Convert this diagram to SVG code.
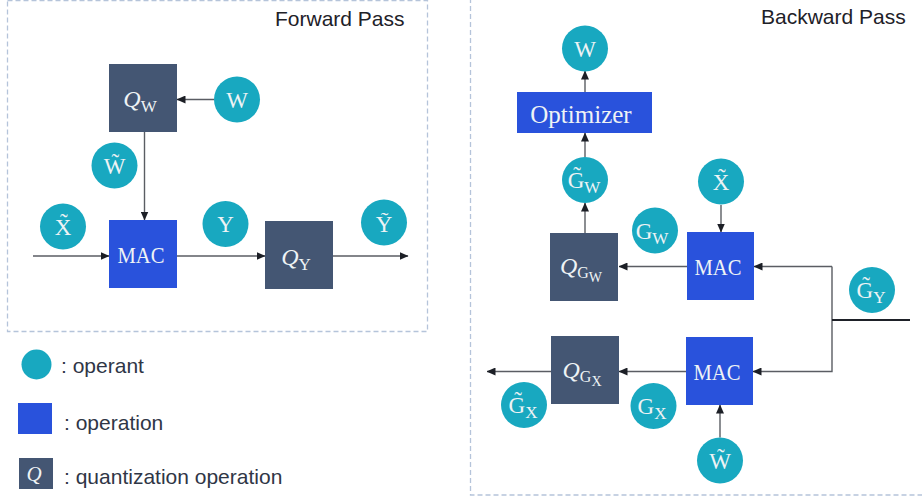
<svg xmlns="http://www.w3.org/2000/svg" width="922" height="496" viewBox="0 0 922 496">
<defs>
<marker id="arr" markerWidth="9" markerHeight="8" refX="8.5" refY="4" orient="auto" markerUnits="userSpaceOnUse">
<path d="M0,0 L9,4 L0,8 Z" fill="#1c1f26"/>
</marker>
<style>
.frame{fill:none;stroke:#b5c4da;stroke-width:1.3;stroke-dasharray:5 3}
.op{fill:#18a8c0}
.mac{fill:#2952dc}
.q{fill:#445673}
.lbl{font-family:"Liberation Serif","DejaVu Serif",serif;fill:#eef3f5;text-anchor:middle}
.ci{font-size:23px}
.title{font-family:"Liberation Sans",Arial,sans-serif;font-size:21px;fill:#1e2128}
.leg{font-family:"Liberation Sans",Arial,sans-serif;font-size:21px;fill:#2f3646}
.c{fill:none;stroke:#5a5d63;stroke-width:1.4}
.cb{fill:none;stroke:#1e2128;stroke-width:2}
</style>
</defs>
<rect width="922" height="496" fill="#ffffff"/>
<rect class="frame" x="7.5" y="0.5" width="420" height="331"/>
<rect class="frame" x="470.5" y="-5" width="460" height="500"/>
<text class="title" x="275" y="26">Forward Pass</text>
<text class="title" x="761" y="24">Backward Pass</text>

<g id="connectors">
<line class="c" x1="214" y1="99.5" x2="177" y2="99.5" marker-end="url(#arr)"/>
<line class="c" x1="144.5" y1="132" x2="144.5" y2="220" marker-end="url(#arr)"/>
<line class="c" x1="33" y1="256" x2="109" y2="256" marker-end="url(#arr)"/>
<line class="c" x1="177" y1="256" x2="265" y2="256" marker-end="url(#arr)"/>
<line class="c" x1="333" y1="256" x2="408" y2="256" marker-end="url(#arr)"/>
<line class="c" x1="585" y1="92" x2="585" y2="71" marker-end="url(#arr)"/>
<line class="c" x1="585" y1="157" x2="585" y2="133" marker-end="url(#arr)"/>
<line class="c" x1="585" y1="233" x2="585" y2="203" marker-end="url(#arr)"/>
<line class="c" x1="721" y1="205" x2="721" y2="232" marker-end="url(#arr)"/>
<line class="c" x1="687" y1="266.5" x2="619" y2="266.5" marker-end="url(#arr)"/>
<path class="c" d="M832,266.5 H754" marker-end="url(#arr)"/>
<path class="c" d="M832,266.5 V371.5 H753" marker-end="url(#arr)"/>
<line class="cb" x1="832" y1="320" x2="910" y2="320"/>
<line class="c" x1="686" y1="371.5" x2="619" y2="371.5" marker-end="url(#arr)"/>
<line class="c" x1="551" y1="371.5" x2="487" y2="371.5" marker-end="url(#arr)"/>
<line class="c" x1="720" y1="437.5" x2="720" y2="405" marker-end="url(#arr)"/>
</g>

<g id="fw-qw"><rect class="q" x="109" y="64" width="68" height="68"/>
<text class="lbl" x="140" y="107" font-size="24"><tspan font-style="italic">Q</tspan><tspan font-size="17" dy="5">W</tspan></text></g>
<g id="fw-w"><circle class="op" cx="237" cy="99.5" r="23"/><text class="lbl ci" x="237" y="107.5">W</text></g>
<g id="fw-wt"><circle class="op" cx="114.5" cy="165.5" r="23"/><text class="lbl ci" x="114.5" y="174">W&#x303;</text></g>
<g id="fw-xt"><circle class="op" cx="63" cy="226.5" r="23"/><text class="lbl ci" x="63" y="235">X&#x303;</text></g>
<g id="fw-mac"><rect class="mac" x="109" y="220" width="68" height="68"/><text class="lbl" x="141" y="263" font-size="24" textLength="47" lengthAdjust="spacingAndGlyphs">MAC</text></g>
<g id="fw-y"><circle class="op" cx="225.5" cy="224" r="23"/><text class="lbl ci" x="225.5" y="232">Y</text></g>
<g id="fw-qy"><rect class="q" x="265" y="221" width="68" height="68"/>
<text class="lbl" x="296" y="265" font-size="24"><tspan font-style="italic">Q</tspan><tspan font-size="17" dy="5">Y</tspan></text></g>
<g id="fw-yt"><circle class="op" cx="384" cy="222.5" r="23"/><text class="lbl ci" x="384" y="231.5">Y&#x303;</text></g>

<g id="legend-operant"><circle class="op" cx="36.5" cy="364.5" r="15"/><text class="leg" x="61" y="372.5">: operant</text></g>
<g id="legend-operation"><rect class="mac" x="18" y="403" width="34" height="31"/><text class="leg" x="64" y="430">: operation</text></g>
<g id="legend-quant"><rect class="q" x="19" y="458" width="34" height="31"/><text class="lbl" x="34" y="481" font-size="21" font-style="italic">Q</text><text class="leg" x="64" y="484">: quantization operation</text></g>

<g id="bw-w"><circle class="op" cx="585" cy="48.5" r="23"/><text class="lbl ci" x="585" y="56.5">W</text></g>
<g id="bw-opt"><rect class="mac" x="517" y="92" width="135" height="41"/><text class="lbl" x="581" y="123" font-size="25">Optimizer</text></g>
<g id="bw-gwt"><circle class="op" cx="585" cy="180" r="23"/><text class="lbl ci" x="584" y="188">G&#x303;<tspan font-size="17" dy="5">W</tspan></text></g>
<g id="bw-qgw"><rect class="q" x="550" y="233" width="68" height="68"/>
<text class="lbl" x="581" y="274" font-size="24"><tspan font-style="italic">Q</tspan><tspan font-size="16" dy="4">G</tspan><tspan font-size="14" dy="4">W</tspan></text></g>
<g id="bw-gw"><circle class="op" cx="655" cy="230.5" r="23"/><text class="lbl ci" x="652" y="239">G<tspan font-size="17" dy="5">W</tspan></text></g>
<g id="bw-xt"><circle class="op" cx="721" cy="181.5" r="23"/><text class="lbl ci" x="721" y="190">X&#x303;</text></g>
<g id="bw-mac1"><rect class="mac" x="687" y="232" width="67" height="68"/><text class="lbl" x="718" y="275" font-size="24" textLength="47" lengthAdjust="spacingAndGlyphs">MAC</text></g>
<g id="bw-gyt"><circle class="op" cx="872" cy="290" r="23"/><text class="lbl ci" x="871" y="298">G&#x303;<tspan font-size="17" dy="5">Y</tspan></text></g>
<g id="bw-qgx"><rect class="q" x="551" y="336" width="68" height="68"/>
<text class="lbl" x="582" y="378" font-size="24"><tspan font-style="italic">Q</tspan><tspan font-size="16" dy="4">G</tspan><tspan font-size="14" dy="4">X</tspan></text></g>
<g id="bw-mac2"><rect class="mac" x="686" y="337" width="67" height="68"/><text class="lbl" x="717" y="380" font-size="24" textLength="47" lengthAdjust="spacingAndGlyphs">MAC</text></g>
<g id="bw-gxt"><circle class="op" cx="524" cy="405" r="23"/><text class="lbl ci" x="523" y="413">G&#x303;<tspan font-size="17" dy="5">X</tspan></text></g>
<g id="bw-gx"><circle class="op" cx="653.5" cy="406" r="23"/><text class="lbl ci" x="652" y="414">G<tspan font-size="17" dy="5">X</tspan></text></g>
<g id="bw-wt"><circle class="op" cx="720" cy="460.5" r="23"/><text class="lbl ci" x="720" y="469">W&#x303;</text></g>
</svg>
